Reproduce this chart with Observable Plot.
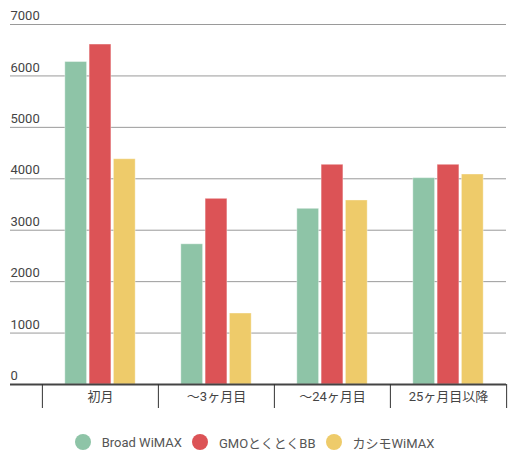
<!DOCTYPE html>
<html><head><meta charset="utf-8">
<script src="https://cdn.jsdelivr.net/npm/d3@7"></script>
<script src="https://cdn.jsdelivr.net/npm/@observablehq/plot@0.6"></script>
<style>
body{margin:0;background:#fff;font-family:Roboto,"Noto Sans CJK JP",sans-serif}
#legend{height:44px;display:flex;align-items:center;justify-content:center;font-size:13px;color:#555;font-family:Roboto,"Noto Sans CJK JP",sans-serif}
#legend .item{display:flex;align-items:center;margin:0 5px}
#legend .sw{width:16px;height:16px;border-radius:50%;margin-right:11px}
</style></head><body>
<div id="chart"></div>
<div id="legend"></div>
<script>
const categories = ["初月", "〜3ヶ月目", "〜24ヶ月目", "25ヶ月目以降"];
const series = ["Broad WiMAX", "GMOとくとくBB", "カシモWiMAX"];
const broadWimax = [6270, 2726, 3416, 4012];
const gmoTokutoku = [6610, 3610, 4272, 4272];
const kashimoWimax = [4380, 1380, 3578, 4083];
const colors = ["#8ec4a7", "#dc5356", "#eecb6a"];
const yTicks = [0, 1000, 2000, 3000, 4000, 5000, 6000, 7000];

const seriesValues = [broadWimax, gmoTokutoku, kashimoWimax];
const rows = series.map((s, k) => categories.map((c, i) => ({cat: c, series: s, value: seriesValues[k][i]})));

const W = 509, H = 420;
const xRange = [41, 506];
const bw = (xRange[1] - xRange[0]) / categories.length;
const barW = 22, step = 24.3;
const inset = (bw - barW) / 2;

const marks = [
  Plot.ruleY(yTicks.filter(d => d > 0), {y: d => d, stroke: "#9a9a9a", strokeWidth: 1}),
  ...rows.map((data, k) => Plot.barY(data, {
    x: "cat", y: "value", fill: "series",
    insetLeft: inset, insetRight: inset, dx: (k - 1) * step,
    stroke: "#fff", strokeOpacity: 0.35, strokeWidth: 1
  })),
  Plot.ruleY([0], {y: d => d, stroke: "#444", strokeWidth: 2}),
  Plot.text(yTicks, {y: d => d, text: d => String(d), frameAnchor: "left", textAnchor: "start", dy: -8.5, fontSize: 13, fill: "#444"}),
  Plot.ruleX(categories, {x: d => d, dx: -bw / 2, insetTop: H - 24 - 36, insetBottom: -24, stroke: "#333", strokeWidth: 1}),
  Plot.ruleX(categories.slice(-1), {x: d => d, dx: bw / 2, insetTop: H - 24 - 36, insetBottom: -24, stroke: "#333", strokeWidth: 1}),
  Plot.axisX({tickSize: 0, tickPadding: 7, fontSize: 13, color: "#444"})
];

const chart = Plot.plot({
  width: W, height: H,
  marginLeft: 10, marginRight: 3, marginTop: 24, marginBottom: 36,
  style: {fontFamily: 'Roboto, "Noto Sans CJK JP", sans-serif', background: "#fff", overflow: "visible"},
  x: {domain: categories, range: xRange, padding: 0, label: null},
  y: {domain: [0, 7000], axis: null},
  color: {domain: series, range: colors},
  marks
});
document.getElementById("chart").append(chart);

const legend = document.getElementById("legend");
series.forEach((s, k) => {
  const it = document.createElement("div");
  it.className = "item";
  const sw = document.createElement("span");
  sw.className = "sw";
  sw.style.background = colors[k];
  const t = document.createElement("span");
  t.textContent = s;
  it.append(sw, t);
  legend.append(it);
});
</script>
</body></html>
